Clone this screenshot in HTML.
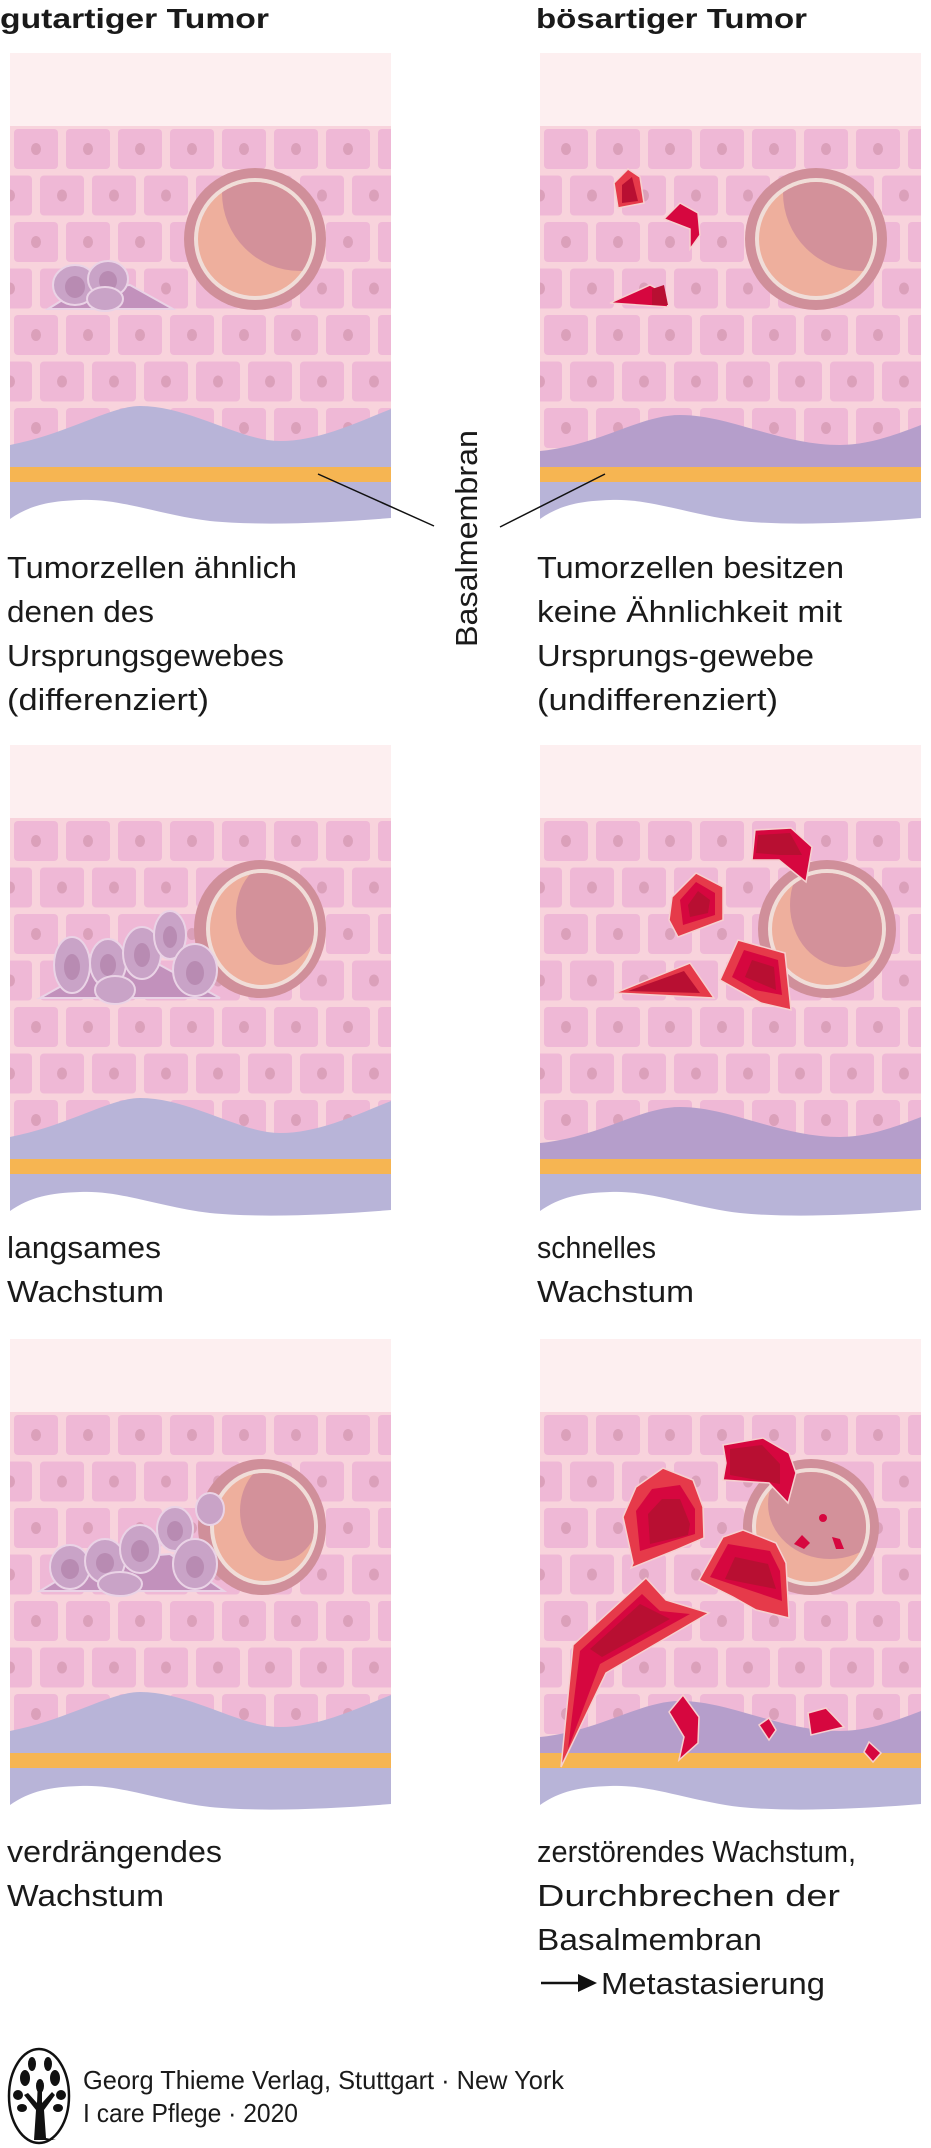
<!DOCTYPE html>
<html><head><meta charset="utf-8"><style>
html,body{margin:0;padding:0;background:#fff;}
svg{display:block}
text{font-family:"Liberation Sans Narrow","Liberation Sans",sans-serif;fill:#1a1a1a}
</style></head><body>
<svg width="931" height="2148" viewBox="0 0 931 2148" xmlns="http://www.w3.org/2000/svg">
<defs>
<pattern id="cells" x="0" y="73" width="52" height="93" patternUnits="userSpaceOnUse">
<rect width="52" height="93" fill="#f8d3dc"/>
<rect x="4" y="3" width="44" height="40" rx="4" fill="#efb8d6"/>
<ellipse cx="26" cy="23" rx="5" ry="6" fill="#dba0ba"/>
<rect x="-22" y="49.5" width="44" height="40" rx="4" fill="#efb8d6"/>
<rect x="30" y="49.5" width="44" height="40" rx="4" fill="#efb8d6"/>
<ellipse cx="0" cy="69.5" rx="5" ry="6" fill="#dba0ba"/>
<ellipse cx="52" cy="69.5" rx="5" ry="6" fill="#dba0ba"/>
</pattern>
<clipPath id="pc"><rect x="0" y="0" width="381" height="480"/></clipPath>
<g id="base">
<rect x="0" y="0" width="381" height="73" fill="#fdeff0"/>
<rect x="0" y="73" width="381" height="345" fill="url(#cells)"/>
<path d="M0,429 H381 V465 C320,470 250,473 200,468 C150,462 110,445 70,447 C40,448 20,452 0,466 Z" fill="#b8b4d8"/>
<rect x="0" y="413" width="381" height="16" fill="#f6b552"/>
</g>
<g id="wb"><path d="M0,392 C60,380 100,353 130,353 C180,353 230,388 270,388 C310,388 350,368 381,356 L381,414 L0,414 Z" fill="#b8b4d8"/></g>
<g id="wm"><path d="M0,398 C60,392 100,362 140,362 C190,362 240,392 300,392 C330,392 360,380 381,372 L381,414 L0,414 Z" fill="#b59ecb"/></g>
</defs>

<!-- titles -->
<text x="0" y="28" font-size="28" font-weight="bold" textLength="269" lengthAdjust="spacingAndGlyphs">gutartiger Tumor</text>
<text x="536" y="28" font-size="28" font-weight="bold" textLength="271" lengthAdjust="spacingAndGlyphs">bösartiger Tumor</text>

<!-- ROW 1 LEFT -->
<g transform="translate(10,53)" clip-path="url(#pc)">
<use href="#base"/><use href="#wb"/>
<g><circle cx="245" cy="186" r="71" fill="#d08f9a"/><circle cx="245" cy="186" r="61" fill="#f0ddd8"/><circle cx="245" cy="186" r="57" fill="#eeaf9d"/>
<clipPath id="v1"><circle cx="245" cy="186" r="57"/></clipPath>
<circle cx="290" cy="140" r="78" fill="#d3919a" clip-path="url(#v1)"/></g>
<g stroke="#ead3e6" stroke-width="2">
<path d="M38,256 L70,236 L120,232 L163,256 Z" fill="#c291bc"/>
<ellipse cx="65" cy="232" rx="22" ry="20" fill="#c9a3c7"/><ellipse cx="65" cy="234" rx="10" ry="11" fill="#b88bb2" stroke="none"/>
<ellipse cx="98" cy="226" rx="20" ry="18" fill="#c9a3c7"/><ellipse cx="98" cy="228" rx="9" ry="10" fill="#b88bb2" stroke="none"/>
<ellipse cx="95" cy="246" rx="18" ry="12" fill="#c9a3c7"/>
</g>
</g>

<!-- ROW 1 RIGHT -->
<g transform="translate(540,53)" clip-path="url(#pc)">
<use href="#base"/><use href="#wm"/>
<g><circle cx="276" cy="186" r="71" fill="#d08f9a"/><circle cx="276" cy="186" r="61" fill="#f0ddd8"/><circle cx="276" cy="186" r="57" fill="#eeaf9d"/>
<clipPath id="v2"><circle cx="276" cy="186" r="57"/></clipPath>
<circle cx="321" cy="140" r="78" fill="#d3919a" clip-path="url(#v2)"/></g>
<g stroke="#f6d0d0" stroke-width="1.5">
<path d="M78,155 L74,130 L88,116 L100,124 L104,150 Z" fill="#e63a4a"/><path d="M82,150 L82,132 L92,124 L98,148 Z" fill="#b80f32" stroke="none"/>
<path d="M124,166 L140,150 L158,160 L160,182 L150,196 L150,176 Z" fill="#d6073f"/>
<path d="M70,250 L110,232 L125,240 L128,254 Z" fill="#d6073f"/><path d="M112,236 L124,232 L128,252 L112,252 Z" fill="#b80f32" stroke="none"/>
</g>
</g>

<!-- basalmembran connectors -->
<line x1="318" y1="474" x2="434" y2="526" stroke="#111" stroke-width="1.5"/>
<line x1="605" y1="474" x2="500" y2="527" stroke="#111" stroke-width="1.5"/>
<text transform="translate(477,647) rotate(-90)" font-size="31" textLength="217" lengthAdjust="spacingAndGlyphs">Basalmembran</text>

<!-- ROW 1 text -->
<g font-size="31">
<text x="7" y="578" textLength="290" lengthAdjust="spacingAndGlyphs">Tumorzellen ähnlich</text>
<text x="7" y="622" textLength="147" lengthAdjust="spacingAndGlyphs">denen des</text>
<text x="7" y="666" textLength="277" lengthAdjust="spacingAndGlyphs">Ursprungsgewebes</text>
<text x="7" y="710" textLength="202" lengthAdjust="spacingAndGlyphs">(differenziert)</text>
<text x="537" y="578" textLength="307" lengthAdjust="spacingAndGlyphs">Tumorzellen besitzen</text>
<text x="537" y="622" textLength="305" lengthAdjust="spacingAndGlyphs">keine Ähnlichkeit mit</text>
<text x="537" y="666" textLength="277" lengthAdjust="spacingAndGlyphs">Ursprungs-gewebe</text>
<text x="537" y="710" textLength="241" lengthAdjust="spacingAndGlyphs">(undifferenziert)</text>
</g>

<!-- ROW 2 LEFT -->
<g transform="translate(10,745)" clip-path="url(#pc)">
<use href="#base"/><use href="#wb"/>
<g><ellipse cx="250" cy="184" rx="66" ry="69" fill="#d08f9a"/><ellipse cx="252" cy="184" rx="56" ry="60" fill="#f0ddd8"/><ellipse cx="252" cy="184" rx="52" ry="56" fill="#eeaf9d"/>
<clipPath id="v3"><ellipse cx="252" cy="184" rx="52" ry="56"/></clipPath>
<ellipse cx="268" cy="168" rx="42" ry="52" fill="#d3919a" clip-path="url(#v3)"/></g>
<g stroke="#ead3e6" stroke-width="2">
<path d="M30,253 L80,225 L150,220 L210,253 Z" fill="#c291bc"/>
<ellipse cx="62" cy="220" rx="18" ry="28" fill="#c9a3c7"/><ellipse cx="62" cy="222" rx="8" ry="13" fill="#b88bb2" stroke="none"/>
<ellipse cx="98" cy="218" rx="18" ry="24" fill="#c9a3c7"/><ellipse cx="98" cy="220" rx="8" ry="11" fill="#b88bb2" stroke="none"/>
<ellipse cx="132" cy="208" rx="19" ry="26" fill="#c9a3c7"/><ellipse cx="132" cy="210" rx="8" ry="12" fill="#b88bb2" stroke="none"/>
<ellipse cx="160" cy="190" rx="16" ry="24" fill="#c9a3c7"/><ellipse cx="160" cy="192" rx="7" ry="11" fill="#b88bb2" stroke="none"/>
<ellipse cx="185" cy="225" rx="22" ry="26" fill="#c9a3c7"/><ellipse cx="185" cy="228" rx="9" ry="12" fill="#b88bb2" stroke="none"/>
<ellipse cx="105" cy="245" rx="20" ry="14" fill="#c9a3c7"/>
</g>
</g>

<!-- ROW 2 RIGHT -->
<g transform="translate(540,745)" clip-path="url(#pc)">
<use href="#base"/><use href="#wm"/>
<g><ellipse cx="287" cy="184" rx="69" ry="69" fill="#d08f9a"/><ellipse cx="287" cy="184" rx="59" ry="60" fill="#f0ddd8"/><ellipse cx="287" cy="184" rx="55" ry="56" fill="#eeaf9d"/>
<clipPath id="v4"><ellipse cx="287" cy="184" rx="55" ry="56"/></clipPath>
<ellipse cx="305" cy="160" rx="55" ry="62" fill="#d3919a" clip-path="url(#v4)"/></g>
<g stroke="#f6d0d0" stroke-width="1.5">
<path d="M215,85 L251,83 L272,102 L266,137 L239,115 L212,115 Z" fill="#d6073f"/><path d="M218,90 L250,88 L262,110 L240,110 L216,108 Z" fill="#b80f32" stroke="none"/>
<path d="M132,152 L156,128 L183,142 L183,175 L138,192 L129,175 Z" fill="#e63a4a"/><path d="M140,155 L156,137 L175,148 L175,170 L143,180 Z" fill="#d6073f" stroke="none"/><path d="M148,160 L158,146 L170,155 L168,168 L150,172 Z" fill="#b80f32" stroke="none"/>
<path d="M75,248 L150,218 L174,253 Z" fill="#e63a4a"/><path d="M88,246 L144,226 L160,248 Z" fill="#b80f32" stroke="none"/>
<path d="M180,235 L198,195 L245,208 L251,265 L221,258 Z" fill="#e63a4a"/><path d="M192,232 L204,205 L238,215 L242,250 L215,245 Z" fill="#d6073f" stroke="none"/><path d="M205,232 L212,215 L234,222 L236,245 Z" fill="#b80f32" stroke="none"/>
</g>
</g>

<!-- ROW 2 text -->
<g font-size="31">
<text x="7" y="1258" textLength="154" lengthAdjust="spacingAndGlyphs">langsames</text>
<text x="7" y="1302" textLength="157" lengthAdjust="spacingAndGlyphs">Wachstum</text>
<text x="537" y="1258" textLength="119" lengthAdjust="spacingAndGlyphs">schnelles</text>
<text x="537" y="1302" textLength="157" lengthAdjust="spacingAndGlyphs">Wachstum</text>
</g>

<!-- ROW 3 LEFT -->
<g transform="translate(10,1339)" clip-path="url(#pc)">
<use href="#base"/><use href="#wb"/>
<g><ellipse cx="252" cy="188" rx="64" ry="68" fill="#d08f9a"/><ellipse cx="254" cy="188" rx="54" ry="58" fill="#f0ddd8"/><ellipse cx="254" cy="188" rx="50" ry="54" fill="#eeaf9d"/>
<clipPath id="v5"><ellipse cx="254" cy="188" rx="50" ry="54"/></clipPath>
<ellipse cx="270" cy="172" rx="40" ry="50" fill="#d3919a" clip-path="url(#v5)"/></g>
<g stroke="#ead3e6" stroke-width="2">
<path d="M30,252 L80,222 L160,215 L214,252 Z" fill="#c291bc"/>
<ellipse cx="60" cy="228" rx="20" ry="22" fill="#c9a3c7"/><ellipse cx="60" cy="230" rx="9" ry="10" fill="#b88bb2" stroke="none"/>
<ellipse cx="95" cy="222" rx="20" ry="22" fill="#c9a3c7"/><ellipse cx="95" cy="224" rx="9" ry="10" fill="#b88bb2" stroke="none"/>
<ellipse cx="130" cy="210" rx="20" ry="24" fill="#c9a3c7"/><ellipse cx="130" cy="212" rx="9" ry="11" fill="#b88bb2" stroke="none"/>
<ellipse cx="165" cy="190" rx="18" ry="22" fill="#c9a3c7"/><ellipse cx="165" cy="192" rx="8" ry="10" fill="#b88bb2" stroke="none"/>
<ellipse cx="185" cy="225" rx="22" ry="25" fill="#c9a3c7"/><ellipse cx="185" cy="228" rx="9" ry="11" fill="#b88bb2" stroke="none"/>
<ellipse cx="200" cy="170" rx="14" ry="16" fill="#c9a3c7"/>
<ellipse cx="110" cy="245" rx="22" ry="12" fill="#c9a3c7"/>
</g>
</g>

<!-- ROW 3 RIGHT -->
<g transform="translate(540,1339)" clip-path="url(#pc)">
<use href="#base"/><use href="#wm"/>
<g><circle cx="271" cy="188" r="68" fill="#d08f9a"/><circle cx="271" cy="188" r="59" fill="#f0ddd8"/><circle cx="271" cy="188" r="55" fill="#eeaf9d"/>
<clipPath id="v6"><circle cx="271" cy="188" r="55"/></clipPath>
<ellipse cx="290" cy="165" rx="62" ry="55" fill="#d3919a" clip-path="url(#v6)"/></g>
<g fill="#d6073f"><circle cx="283" cy="179" r="4"/><path d="M254,205 L262,196 L270,204 L264,210 Z"/><path d="M292,198 L300,200 L304,210 L296,210 Z"/></g>
<g stroke="#f6d0d0" stroke-width="1.5">
<path d="M93,224 L83,178 L96,148 L123,129 L153,141 L163,168 L164,199 L136,211 L91,229 Z" fill="#e63a4a"/>
<path d="M100,212 L96,172 L112,150 L140,146 L155,170 L155,195 Z" fill="#d6073f" stroke="none"/>
<path d="M110,205 L108,175 L122,160 L140,160 L150,185 L148,196 Z" fill="#b80f32" stroke="none"/>
<path d="M183,106 L223,99 L249,114 L256,134 L248,164 L229,144 L183,141 L186,124 Z" fill="#d6073f"/>
<path d="M190,110 L222,106 L240,125 L240,145 L190,136 Z" fill="#b80f32" stroke="none"/>
<path d="M159,241 L183,198 L203,191 L236,204 L246,224 L249,279 L216,271 L193,258 Z" fill="#e63a4a"/>
<path d="M170,238 L188,205 L230,212 L240,232 L242,262 Z" fill="#d6073f" stroke="none"/>
<path d="M185,240 L195,218 L228,225 L236,250 Z" fill="#b80f32" stroke="none"/>
<path d="M21,428 L33,306 L106,239 L126,261 L169,274 L66,334 Z" fill="#e63a4a"/>
<path d="M28,410 L40,312 L102,255 L120,272 L150,275 L60,325 Z" fill="#d6073f" stroke="none"/>
<path d="M50,310 L100,265 L130,280 L62,318 Z" fill="#b80f32" stroke="none"/>
<path d="M129,373 L143,356 L159,378 L158,404 L139,421 L144,398 Z" fill="#d6073f"/>
<path d="M219,386 L229,379 L236,391 L229,401 Z" fill="#d6073f"/>
<path d="M268,374 L286,369 L304,388 L271,396 Z" fill="#d6073f"/>
<path d="M324,413 L329,403 L341,414 L333,423 Z" fill="#d6073f"/>
</g>
</g>

<!-- ROW 3 text -->
<g font-size="31">
<text x="7" y="1862" textLength="215" lengthAdjust="spacingAndGlyphs">verdrängendes</text>
<text x="7" y="1906" textLength="157" lengthAdjust="spacingAndGlyphs">Wachstum</text>
<text x="537" y="1862" textLength="319" lengthAdjust="spacingAndGlyphs">zerstörendes Wachstum,</text>
<text x="537" y="1906" textLength="303" lengthAdjust="spacingAndGlyphs">Durchbrechen der</text>
<text x="537" y="1950" textLength="225" lengthAdjust="spacingAndGlyphs">Basalmembran</text>
<text x="601" y="1994" textLength="224" lengthAdjust="spacingAndGlyphs">Metastasierung</text>
</g>
<line x1="541" y1="1983" x2="580" y2="1983" stroke="#111" stroke-width="2.5"/>
<path d="M578,1974 L597,1983 L578,1992 Z" fill="#111"/>

<!-- footer logo -->
<ellipse cx="39" cy="2096" rx="30" ry="47" fill="none" stroke="#111" stroke-width="2.5"/>
<g fill="#111">
<path d="M34,2140 L36,2110 L24,2095 L28,2093 L37,2103 L38,2080 L42,2080 L42,2103 L52,2092 L55,2095 L44,2110 L46,2138 L56,2140 Z"/>
<ellipse cx="25" cy="2078" rx="5" ry="8"/><ellipse cx="55" cy="2078" rx="5" ry="8"/>
<ellipse cx="32" cy="2064" rx="4" ry="7"/><ellipse cx="48" cy="2064" rx="4" ry="7"/>
<ellipse cx="18" cy="2095" rx="5" ry="5"/><ellipse cx="61" cy="2095" rx="5" ry="5"/>
<ellipse cx="40" cy="2086" rx="4" ry="7"/><ellipse cx="22" cy="2108" rx="5" ry="4"/><ellipse cx="58" cy="2108" rx="5" ry="4"/>
</g>
<g font-size="26">
<text x="83" y="2089" textLength="481" lengthAdjust="spacingAndGlyphs">Georg Thieme Verlag, Stuttgart · New York</text>
<text x="83" y="2122" textLength="215" lengthAdjust="spacingAndGlyphs">I care Pflege · 2020</text>
</g>
</svg>
</body></html>
